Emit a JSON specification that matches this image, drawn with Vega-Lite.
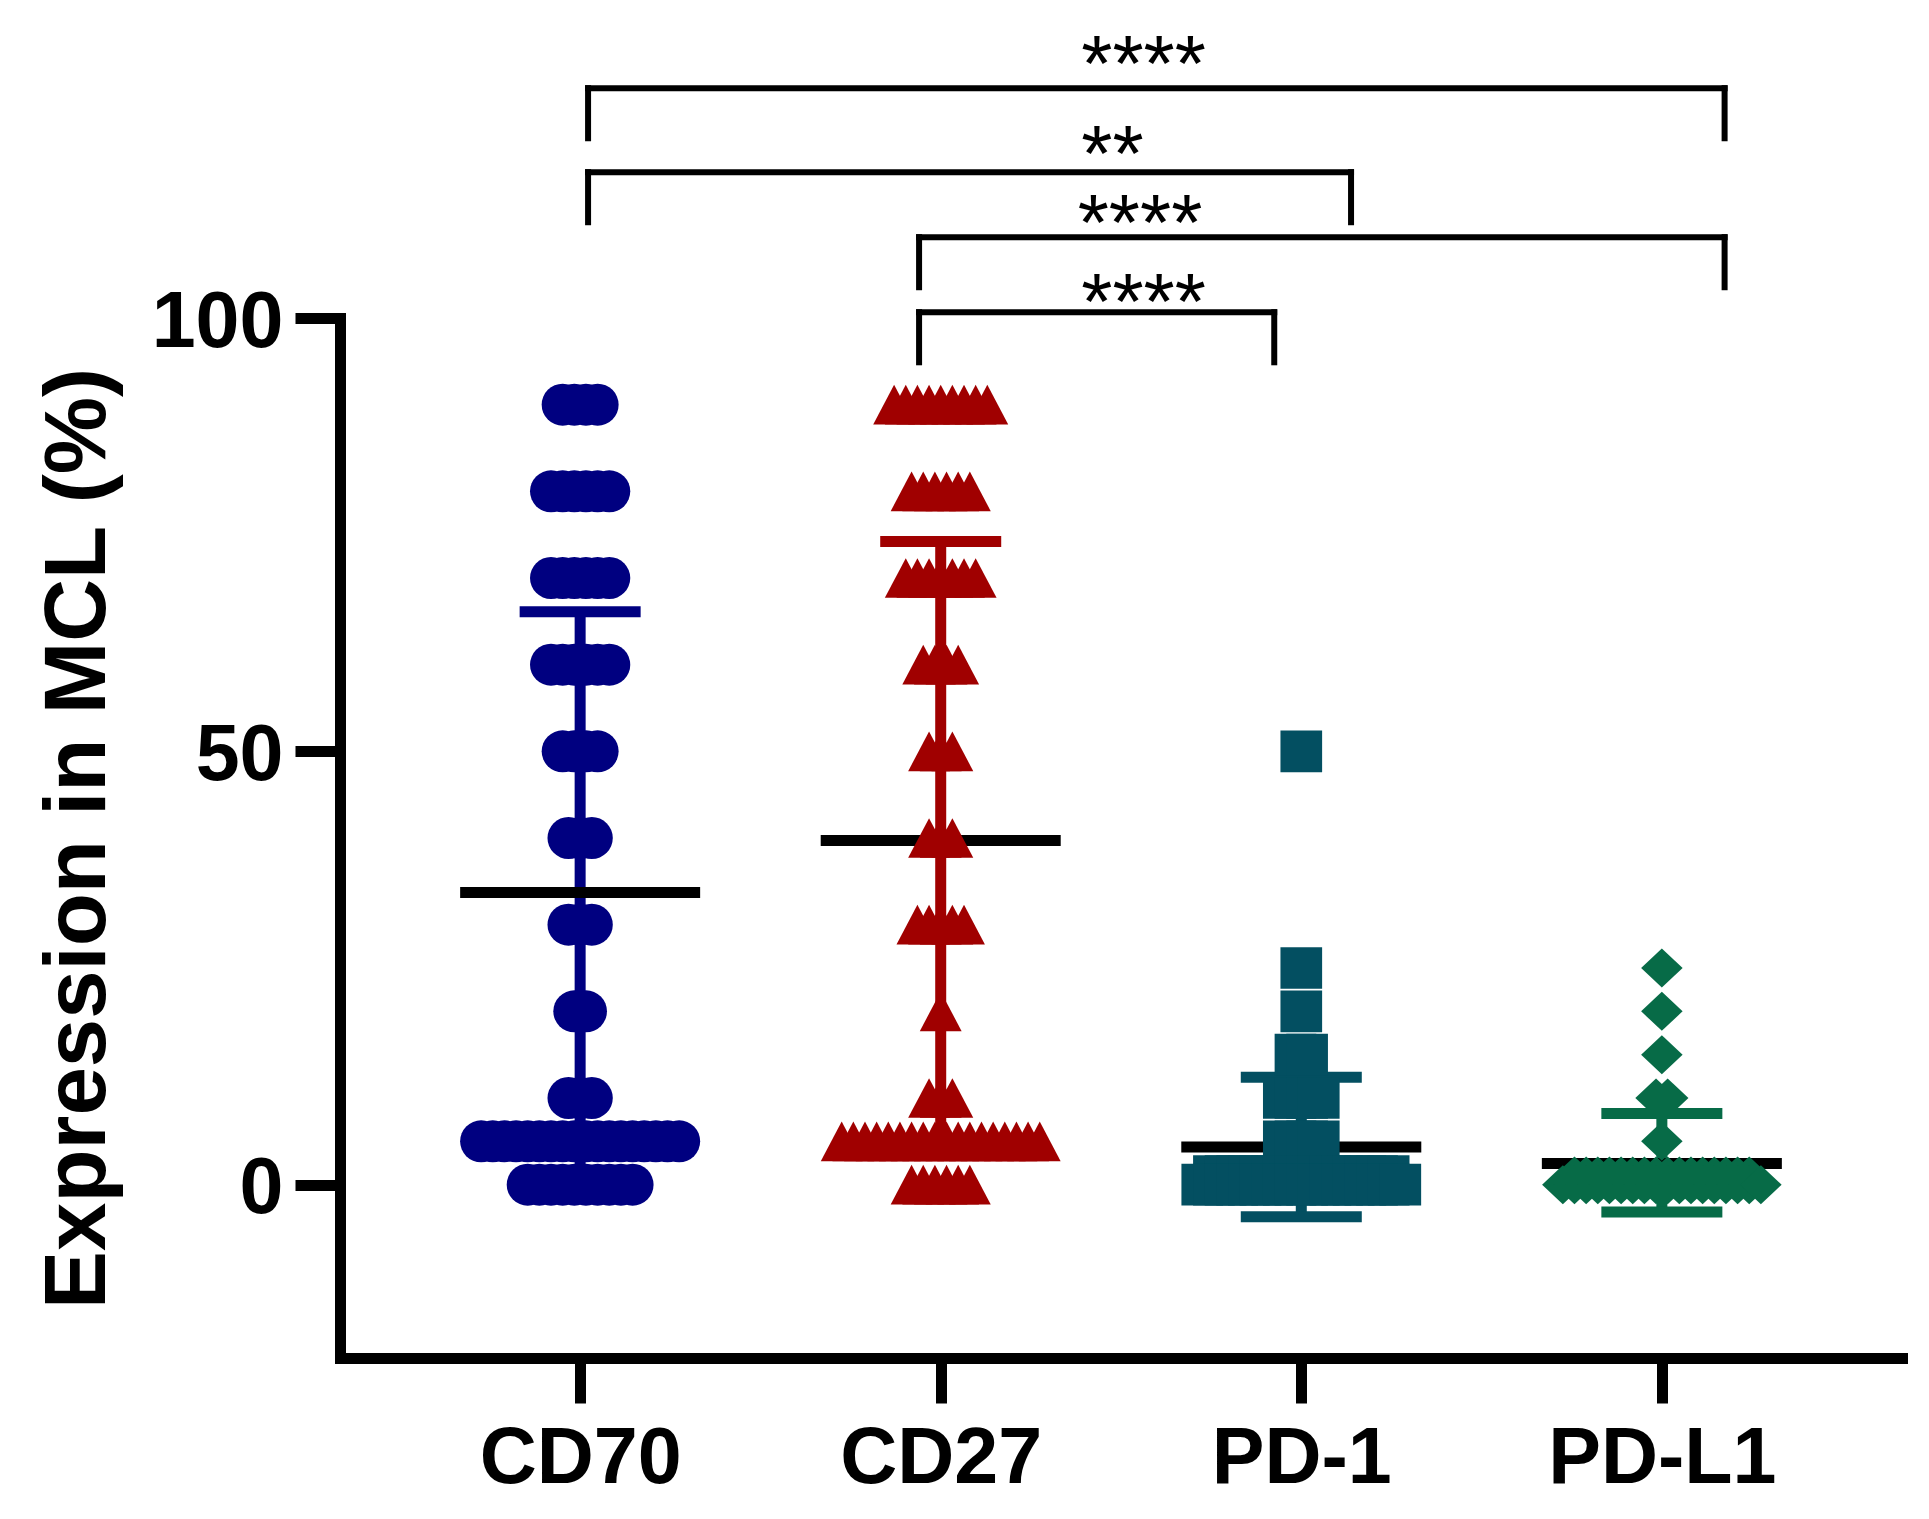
{
  "$schema": "https://vega.github.io/schema/vega-lite/v6.json",
  "width": 1562,
  "height": 1040,
  "autosize": {"type": "none"},
  "padding": {"left": 340, "top": 318, "right": 27, "bottom": 161},
  "background": "white",
  "datasets": {
    "pts": [
      {"g":"CD70","v":90},{"g":"CD70","v":90},{"g":"CD70","v":90},{"g":"CD70","v":90},
      {"g":"CD70","v":80},{"g":"CD70","v":80},{"g":"CD70","v":80},{"g":"CD70","v":80},{"g":"CD70","v":80},{"g":"CD70","v":80},
      {"g":"CD70","v":70},{"g":"CD70","v":70},{"g":"CD70","v":70},{"g":"CD70","v":70},{"g":"CD70","v":70},{"g":"CD70","v":70},
      {"g":"CD70","v":60},{"g":"CD70","v":60},{"g":"CD70","v":60},{"g":"CD70","v":60},{"g":"CD70","v":60},{"g":"CD70","v":60},
      {"g":"CD70","v":50},{"g":"CD70","v":50},{"g":"CD70","v":50},{"g":"CD70","v":50},
      {"g":"CD70","v":40},{"g":"CD70","v":40},{"g":"CD70","v":40},
      {"g":"CD70","v":30},{"g":"CD70","v":30},{"g":"CD70","v":30},
      {"g":"CD70","v":20},{"g":"CD70","v":20},
      {"g":"CD70","v":10},{"g":"CD70","v":10},{"g":"CD70","v":10},
      {"g":"CD70","v":5},{"g":"CD70","v":5},{"g":"CD70","v":5},{"g":"CD70","v":5},{"g":"CD70","v":5},{"g":"CD70","v":5},
      {"g":"CD70","v":5},{"g":"CD70","v":5},{"g":"CD70","v":5},{"g":"CD70","v":5},{"g":"CD70","v":5},{"g":"CD70","v":5},
      {"g":"CD70","v":5},{"g":"CD70","v":5},{"g":"CD70","v":5},{"g":"CD70","v":5},{"g":"CD70","v":5},{"g":"CD70","v":5},
      {"g":"CD70","v":0},{"g":"CD70","v":0},{"g":"CD70","v":0},{"g":"CD70","v":0},{"g":"CD70","v":0},
      {"g":"CD70","v":0},{"g":"CD70","v":0},{"g":"CD70","v":0},{"g":"CD70","v":0},{"g":"CD70","v":0},

      {"g":"CD27","v":90},{"g":"CD27","v":90},{"g":"CD27","v":90},{"g":"CD27","v":90},{"g":"CD27","v":90},
      {"g":"CD27","v":90},{"g":"CD27","v":90},{"g":"CD27","v":90},{"g":"CD27","v":90},
      {"g":"CD27","v":80},{"g":"CD27","v":80},{"g":"CD27","v":80},{"g":"CD27","v":80},{"g":"CD27","v":80},{"g":"CD27","v":80},
      {"g":"CD27","v":70},{"g":"CD27","v":70},{"g":"CD27","v":70},{"g":"CD27","v":70},{"g":"CD27","v":70},{"g":"CD27","v":70},{"g":"CD27","v":70},
      {"g":"CD27","v":60},{"g":"CD27","v":60},{"g":"CD27","v":60},{"g":"CD27","v":60},
      {"g":"CD27","v":50},{"g":"CD27","v":50},{"g":"CD27","v":50},
      {"g":"CD27","v":40},{"g":"CD27","v":40},{"g":"CD27","v":40},
      {"g":"CD27","v":30},{"g":"CD27","v":30},{"g":"CD27","v":30},{"g":"CD27","v":30},{"g":"CD27","v":30},
      {"g":"CD27","v":20},
      {"g":"CD27","v":10},{"g":"CD27","v":10},{"g":"CD27","v":10},
      {"g":"CD27","v":5},{"g":"CD27","v":5},{"g":"CD27","v":5},{"g":"CD27","v":5},{"g":"CD27","v":5},{"g":"CD27","v":5},
      {"g":"CD27","v":5},{"g":"CD27","v":5},{"g":"CD27","v":5},{"g":"CD27","v":5},{"g":"CD27","v":5},{"g":"CD27","v":5},
      {"g":"CD27","v":5},{"g":"CD27","v":5},{"g":"CD27","v":5},{"g":"CD27","v":5},{"g":"CD27","v":5},{"g":"CD27","v":5},
      {"g":"CD27","v":0},{"g":"CD27","v":0},{"g":"CD27","v":0},{"g":"CD27","v":0},{"g":"CD27","v":0},{"g":"CD27","v":0},

      {"g":"PD-1","v":50},
      {"g":"PD-1","v":25},
      {"g":"PD-1","v":20},
      {"g":"PD-1","v":15},{"g":"PD-1","v":15},
      {"g":"PD-1","v":10},{"g":"PD-1","v":10},{"g":"PD-1","v":10},{"g":"PD-1","v":10},
      {"g":"PD-1","v":5},{"g":"PD-1","v":5},{"g":"PD-1","v":5},{"g":"PD-1","v":5},
      {"g":"PD-1","v":1},{"g":"PD-1","v":1},{"g":"PD-1","v":1},{"g":"PD-1","v":1},{"g":"PD-1","v":1},{"g":"PD-1","v":1},
      {"g":"PD-1","v":1},{"g":"PD-1","v":1},{"g":"PD-1","v":1},{"g":"PD-1","v":1},{"g":"PD-1","v":1},{"g":"PD-1","v":1},
      {"g":"PD-1","v":1},{"g":"PD-1","v":1},{"g":"PD-1","v":1},{"g":"PD-1","v":1},
      {"g":"PD-1","v":0},{"g":"PD-1","v":0},{"g":"PD-1","v":0},{"g":"PD-1","v":0},{"g":"PD-1","v":0},{"g":"PD-1","v":0},
      {"g":"PD-1","v":0},{"g":"PD-1","v":0},{"g":"PD-1","v":0},{"g":"PD-1","v":0},{"g":"PD-1","v":0},{"g":"PD-1","v":0},
      {"g":"PD-1","v":0},{"g":"PD-1","v":0},{"g":"PD-1","v":0},{"g":"PD-1","v":0},{"g":"PD-1","v":0},{"g":"PD-1","v":0},

      {"g":"PD-L1","v":25},
      {"g":"PD-L1","v":20},
      {"g":"PD-L1","v":15},
      {"g":"PD-L1","v":10},{"g":"PD-L1","v":10},
      {"g":"PD-L1","v":5},
      {"g":"PD-L1","v":1},{"g":"PD-L1","v":1},{"g":"PD-L1","v":1},{"g":"PD-L1","v":1},{"g":"PD-L1","v":1},{"g":"PD-L1","v":1},
      {"g":"PD-L1","v":1},{"g":"PD-L1","v":1},{"g":"PD-L1","v":1},{"g":"PD-L1","v":1},{"g":"PD-L1","v":1},{"g":"PD-L1","v":1},
      {"g":"PD-L1","v":1},{"g":"PD-L1","v":1},{"g":"PD-L1","v":1},{"g":"PD-L1","v":1},
      {"g":"PD-L1","v":0},{"g":"PD-L1","v":0},{"g":"PD-L1","v":0},{"g":"PD-L1","v":0},{"g":"PD-L1","v":0},{"g":"PD-L1","v":0},
      {"g":"PD-L1","v":0},{"g":"PD-L1","v":0},{"g":"PD-L1","v":0},{"g":"PD-L1","v":0},{"g":"PD-L1","v":0},{"g":"PD-L1","v":0},
      {"g":"PD-L1","v":0},{"g":"PD-L1","v":0},{"g":"PD-L1","v":0},{"g":"PD-L1","v":0},{"g":"PD-L1","v":0},{"g":"PD-L1","v":0}
    ],
    "sum": [
      {"g":"CD70","mean":33.7,"lo":1.3,"hi":66.1},
      {"g":"CD27","mean":39.7,"lo":5.2,"hi":74.2},
      {"g":"PD-1","mean":4.35,"lo":-3.7,"hi":12.4},
      {"g":"PD-L1","mean":2.45,"lo":-3.15,"hi":8.2}
    ],
    "br": [
      {"x1":0.022,"x2":3.174,"top":126.52,"bot":120.74},
      {"x1":0.022,"x2":2.138,"top":116.83,"bot":111.05},
      {"x1":0.94,"x2":3.174,"top":109.33,"bot":103.55},
      {"x1":0.94,"x2":1.925,"top":100.67,"bot":94.89}
    ],
    "st": [
      {"xs":1.39,"y":126.2,"t":"****"},
      {"xs":1.39,"y":115.8,"t":"**"},
      {"xs":1.38,"y":107.85,"t":"****"},
      {"xs":1.39,"y":98.73,"t":"****"}
    ]
  },
  "config": {
    "view": {"stroke": null},
    "axis": {
      "grid": false,
      "domainColor": "black",
      "domainWidth": 11,
      "domainCap": "square",
      "tickColor": "black",
      "tickWidth": 11,
      "tickSize": 45,
      "labelFont": "Liberation Sans",
      "labelFontWeight": "bold",
      "labelFontSize": 79,
      "labelColor": "black",
      "labelLimit": 600,
      "labelOverlap": false,
      "labelFlush": false,
      "titleFont": "Liberation Sans",
      "titleFontWeight": "bold",
      "titleColor": "black",
      "titleLimit": 2000
    },
    "axisY": {
      "labelPadding": 12,
      "labelOffset": 4,
      "titleFontSize": 87,
      "titleAngle": 270,
      "titleX": -235.5,
      "titleY": 520,
      "titleAlign": "center",
      "titleBaseline": "alphabetic"
    },
    "axisX": {"labelPadding": 17, "labelAngle": 0}
  },
  "resolve": {"scale": {"x": "independent"}},
  "layer": [
    {
      "layer": [
        {
          "data": {"name": "sum"},
          "mark": {"type": "rule", "strokeWidth": 11},
          "encoding": {
            "x": {"field": "g", "type": "nominal", "sort": null, "title": null,
                  "scale": {"type": "point", "padding": 0.666, "domain": ["CD70","CD27","PD-1","PD-L1"]}},
            "y": {"field": "lo", "type": "quantitative", "title": "Expression in MCL (%)",
                  "scale": {"domain": [-20, 100], "nice": false, "zero": false},
                  "axis": {"values": [0, 50, 100]}},
            "y2": {"field": "hi"},
            "color": {"field": "g", "type": "nominal", "legend": null,
                      "scale": {"domain": ["CD70","CD27","PD-1","PD-L1"], "range": ["#000080","#A00000","#034F61","#076B47"]}}
          }
        },
        {
          "data": {"name": "sum"},
          "mark": {"type": "tick", "size": 121, "thickness": 11, "opacity": 1},
          "encoding": {
            "x": {"field": "g", "type": "nominal", "sort": null, "title": null,
                  "scale": {"type": "point", "padding": 0.666, "domain": ["CD70","CD27","PD-1","PD-L1"]}},
            "y": {"field": "lo", "type": "quantitative", "title": "Expression in MCL (%)",
                  "scale": {"domain": [-20, 100], "nice": false, "zero": false},
                  "axis": {"values": [0, 50, 100]}},
            "color": {"field": "g", "type": "nominal", "legend": null,
                      "scale": {"domain": ["CD70","CD27","PD-1","PD-L1"], "range": ["#000080","#A00000","#034F61","#076B47"]}}
          }
        },
        {
          "data": {"name": "sum"},
          "mark": {"type": "tick", "size": 121, "thickness": 11, "opacity": 1},
          "encoding": {
            "x": {"field": "g", "type": "nominal", "sort": null, "title": null,
                  "scale": {"type": "point", "padding": 0.666, "domain": ["CD70","CD27","PD-1","PD-L1"]}},
            "y": {"field": "hi", "type": "quantitative", "title": "Expression in MCL (%)",
                  "scale": {"domain": [-20, 100], "nice": false, "zero": false},
                  "axis": {"values": [0, 50, 100]}},
            "color": {"field": "g", "type": "nominal", "legend": null,
                      "scale": {"domain": ["CD70","CD27","PD-1","PD-L1"], "range": ["#000080","#A00000","#034F61","#076B47"]}}
          }
        },
        {
          "data": {"name": "sum"},
          "mark": {"type": "tick", "size": 240, "thickness": 11, "color": "black", "opacity": 1},
          "encoding": {
            "x": {"field": "g", "type": "nominal", "sort": null, "title": null,
                  "scale": {"type": "point", "padding": 0.666, "domain": ["CD70","CD27","PD-1","PD-L1"]}},
            "y": {"field": "mean", "type": "quantitative", "title": "Expression in MCL (%)",
                  "scale": {"domain": [-20, 100], "nice": false, "zero": false},
                  "axis": {"values": [0, 50, 100]}}
          }
        },
        {
          "data": {"name": "pts"},
          "transform": [
            {"window": [{"op": "row_number", "as": "rn"}], "groupby": ["g", "v"]},
            {"joinaggregate": [{"op": "count", "as": "n"}], "groupby": ["g", "v"]},
            {"calculate": "datum.rn - (datum.n + 1) / 2", "as": "off"}
          ],
          "mark": {"type": "point", "filled": true, "opacity": 1, "strokeWidth": 0},
          "encoding": {
            "x": {"field": "g", "type": "nominal", "sort": null, "title": null,
                  "scale": {"type": "point", "padding": 0.666, "domain": ["CD70","CD27","PD-1","PD-L1"]}},
            "xOffset": {"field": "off", "type": "quantitative",
                        "scale": {"domain": [-10, 10], "range": [-116.5, 116.5], "nice": false, "zero": false}},
            "y": {"field": "v", "type": "quantitative", "title": "Expression in MCL (%)",
                  "scale": {"domain": [-20, 100], "nice": false, "zero": false},
                  "axis": {"values": [0, 50, 100]}},
            "color": {"field": "g", "type": "nominal", "legend": null,
                      "scale": {"domain": ["CD70","CD27","PD-1","PD-L1"], "range": ["#000080","#A00000","#034F61","#076B47"]}},
            "shape": {"field": "g", "type": "nominal", "legend": null,
                      "scale": {"domain": ["CD70","CD27","PD-1","PD-L1"],
                                "range": ["circle", "M-1,0.95L0,-0.95L1,0.95Z", "square", "M-1,0L0,-0.94L1,0L0,0.94Z"]}},
            "size": {"field": "g", "type": "nominal", "legend": null,
                     "scale": {"domain": ["CD70","CD27","PD-1","PD-L1"], "range": [1764, 1722, 1764, 2116]}}
          }
        }
      ]
    },
    {
      "layer": [
        {
          "data": {"name": "br"},
          "mark": {"type": "rule", "strokeWidth": 6, "strokeCap": "square", "color": "black"},
          "encoding": {
            "x": {"field": "x1", "type": "quantitative", "axis": null,
                  "scale": {"domain": [-0.666, 3.666], "nice": false, "zero": false}},
            "x2": {"field": "x2"},
            "y": {"field": "top", "type": "quantitative", "title": "Expression in MCL (%)",
                  "scale": {"domain": [-20, 100], "nice": false, "zero": false},
                  "axis": {"values": [0, 50, 100]}}
          }
        },
        {
          "data": {"name": "br"},
          "mark": {"type": "rule", "strokeWidth": 6, "strokeCap": "square", "color": "black"},
          "encoding": {
            "x": {"field": "x1", "type": "quantitative", "axis": null,
                  "scale": {"domain": [-0.666, 3.666], "nice": false, "zero": false}},
            "y": {"field": "top", "type": "quantitative", "title": "Expression in MCL (%)",
                  "scale": {"domain": [-20, 100], "nice": false, "zero": false},
                  "axis": {"values": [0, 50, 100]}},
            "y2": {"field": "bot"}
          }
        },
        {
          "data": {"name": "br"},
          "mark": {"type": "rule", "strokeWidth": 6, "strokeCap": "square", "color": "black"},
          "encoding": {
            "x": {"field": "x2", "type": "quantitative", "axis": null,
                  "scale": {"domain": [-0.666, 3.666], "nice": false, "zero": false}},
            "y": {"field": "top", "type": "quantitative", "title": "Expression in MCL (%)",
                  "scale": {"domain": [-20, 100], "nice": false, "zero": false},
                  "axis": {"values": [0, 50, 100]}},
            "y2": {"field": "bot"}
          }
        },
        {
          "data": {"name": "st"},
          "mark": {"type": "text", "align": "left", "baseline": "alphabetic", "fontSize": 80, "font": "Liberation Sans", "color": "black"},
          "encoding": {
            "x": {"field": "xs", "type": "quantitative", "axis": null,
                  "scale": {"domain": [-0.666, 3.666], "nice": false, "zero": false}},
            "y": {"field": "y", "type": "quantitative", "title": "Expression in MCL (%)",
                  "scale": {"domain": [-20, 100], "nice": false, "zero": false},
                  "axis": {"values": [0, 50, 100]}},
            "text": {"field": "t", "type": "nominal"}
          }
        }
      ]
    }
  ]
}
